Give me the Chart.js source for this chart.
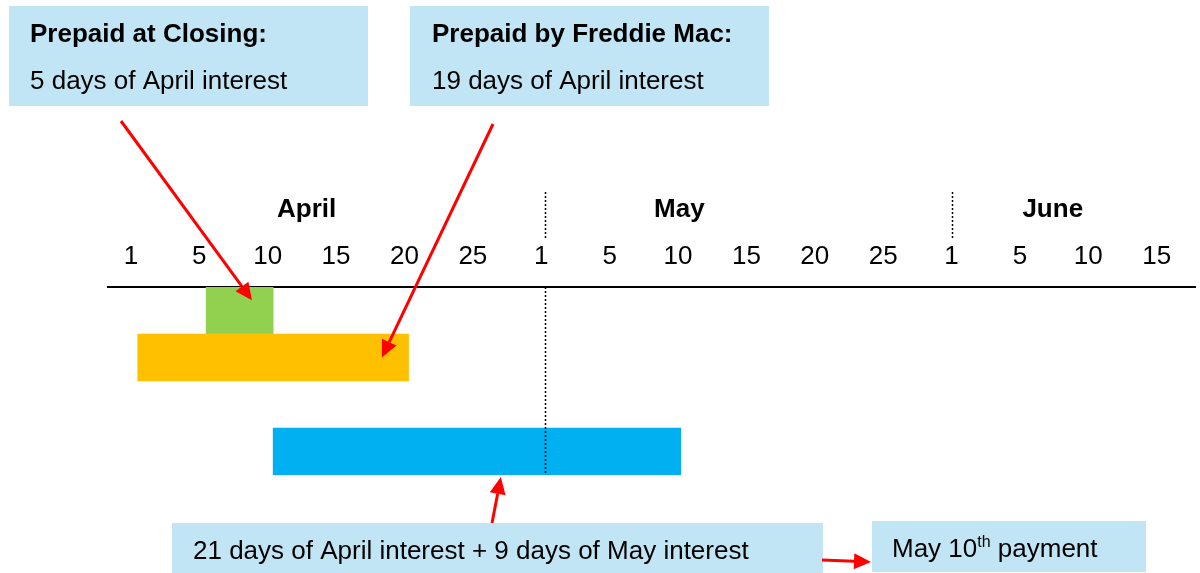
<!DOCTYPE html>
<html>
<head>
<meta charset="utf-8">
<script src="https://cdn.jsdelivr.net/npm/chart.js@4.4.1/dist/chart.umd.min.js"></script>
<style>
  body { margin: 0; background: #fff; }
  #wrap { width: 1200px; height: 573px; position: relative; }
</style>
</head>
<body>
<div id="wrap"><canvas id="chart"></canvas></div>
<script>
// Línea de tiempo: abril - junio (cada marca es una posición en la línea)
const tickLabels = ['1', '5', '10', '15', '20', '25', '1', '5', '10', '15', '20', '25', '1', '5', '10', '15'];
const months = ['April', 'May', 'June'];
const monthPos = [2.57, 8.02, 13.48];
const monthBreaks = [6.06, 12.0];

const rows = ['Prepaid at Closing', 'Prepaid by Freddie Mac', '', 'May 10th payment'];
const barStart = [1.1, 0.1, null, 2.08];
const barEnd = [2.08, 4.06, null, 8.04];
const barColors = ['#92d050', '#ffc000', '#ffffff', '#00b0f0'];

const FONT = '"Liberation Sans", Arial, sans-serif';
const BOX = '#c1e5f5';
const RED = '#ff0000';

const barData = rows.map(function(r, i) {
    return barStart[i] === null ? null : [barStart[i], barEnd[i]];
});

function arrow(ctx, x1, y1, x2, y2) {
    const ang = Math.atan2(y2 - y1, x2 - x1);
    const head = 17, half = 8;
    const bx = x2 - head * Math.cos(ang), by = y2 - head * Math.sin(ang);
    ctx.save();
    ctx.strokeStyle = RED;
    ctx.fillStyle = RED;
    ctx.lineWidth = 3;
    ctx.beginPath();
    ctx.moveTo(x1, y1);
    ctx.lineTo(bx, by);
    ctx.stroke();
    ctx.beginPath();
    ctx.moveTo(x2, y2);
    ctx.lineTo(bx + half * Math.sin(ang), by - half * Math.cos(ang));
    ctx.lineTo(bx - half * Math.sin(ang), by + half * Math.cos(ang));
    ctx.closePath();
    ctx.fill();
    ctx.restore();
}

const timelinePlugin = {
    id: 'timeline',
    afterDatasetsDraw: function(chart) {
        const ctx = chart.ctx;
        const x = chart.scales.x;
        const area = chart.chartArea;
        ctx.save();
        // etiquetas de mes
        ctx.fillStyle = '#000';
        ctx.font = 'bold 26px ' + FONT;
        ctx.textAlign = 'center';
        ctx.textBaseline = 'middle';
        months.forEach(function(m, i) {
            ctx.fillText(m, x.getPixelForValue(monthPos[i]), 210);
        });
        // separadores punteados
        ctx.strokeStyle = '#000';
        ctx.lineWidth = 1.5;
        ctx.setLineDash([2, 2]);
        monthBreaks.forEach(function(v) {
            const px = Math.round(x.getPixelForValue(v)) + 0.5;
            ctx.beginPath();
            ctx.moveTo(px, 192);
            ctx.lineTo(px, 238);
            ctx.stroke();
        });
        const px0 = Math.round(x.getPixelForValue(monthBreaks[0])) + 0.5;
        ctx.beginPath();
        ctx.moveTo(px0, area.top);
        ctx.lineTo(px0, area.bottom);
        ctx.stroke();
        ctx.restore();
    },
    afterDraw: function(chart) {
        const ctx = chart.ctx;
        const x = chart.scales.x;
        const y = chart.scales.y;
        ctx.save();
        ctx.fillStyle = BOX;
        ctx.fillRect(9, 6, 359, 100);
        ctx.fillRect(410, 6, 359, 100);
        ctx.fillRect(172, 523, 651, 50);
        ctx.fillRect(872, 521, 274, 51);

        ctx.fillStyle = '#000';
        ctx.textAlign = 'left';
        ctx.textBaseline = 'alphabetic';
        ctx.font = 'bold 26px ' + FONT;
        ctx.fillText('Prepaid at Closing:', 30, 42);
        ctx.fillText('Prepaid by Freddie Mac:', 432, 42);
        ctx.font = '26px ' + FONT;
        ctx.fillText('5 days of April interest', 30, 89);
        ctx.fillText('19 days of April interest', 432, 89);
        ctx.fillText('21 days of April interest + 9 days of May interest', 193, 559);

        let tx = 892;
        ctx.fillText('May 10', tx, 557);
        tx += ctx.measureText('May 10').width;
        ctx.font = '16px ' + FONT;
        ctx.fillText('th', tx, 547);
        tx += ctx.measureText('th').width;
        ctx.font = '26px ' + FONT;
        ctx.fillText(' payment', tx, 557);
        ctx.restore();

        const band = y.getPixelForValue(1) - y.getPixelForValue(0);
        arrow(ctx, 121, 121, x.getPixelForValue(1.77), y.getPixelForValue(0) - band * 0.22);
        arrow(ctx, 493, 124, x.getPixelForValue(3.67), y.getPixelForValue(1));
        arrow(ctx, 492, 523, x.getPixelForValue(5.41), y.getPixelForValue(3) + band / 2 + 2);
        arrow(ctx, 822, 560, 871, 562);
    }
};

new Chart(document.getElementById('chart'), {
    type: 'bar',
    data: {
        labels: rows,
        datasets: [{
            data: barData,
            backgroundColor: barColors,
            borderWidth: 0,
            barPercentage: 1,
            categoryPercentage: 1
        }]
    },
    options: {
        indexAxis: 'y',
        responsive: true,
        maintainAspectRatio: false,
        animation: false,
        layout: { padding: { left: 108, right: 5, top: 0, bottom: 98 } },
        plugins: {
            legend: { display: false },
            tooltip: { enabled: false }
        },
        scales: {
            x: {
                type: 'linear',
                position: 'top',
                min: -0.335,
                max: 15.56,
                afterBuildTicks: function(scale) {
                    scale.ticks = tickLabels.map(function(t, i) { return { value: i }; });
                },
                afterFit: function(scale) {
                    scale.height = 287;
                },
                grid: { display: false, drawTicks: false },
                border: { display: true, color: '#000', width: 2 },
                ticks: {
                    autoSkip: false,
                    maxRotation: 0,
                    padding: 15,
                    color: '#000',
                    font: { family: FONT, size: 26 },
                    callback: function(value) {
                        return tickLabels[value];
                    }
                }
            },
            y: {
                type: 'category',
                display: false
            }
        }
    },
    plugins: [timelinePlugin]
});
</script>
</body>
</html>
